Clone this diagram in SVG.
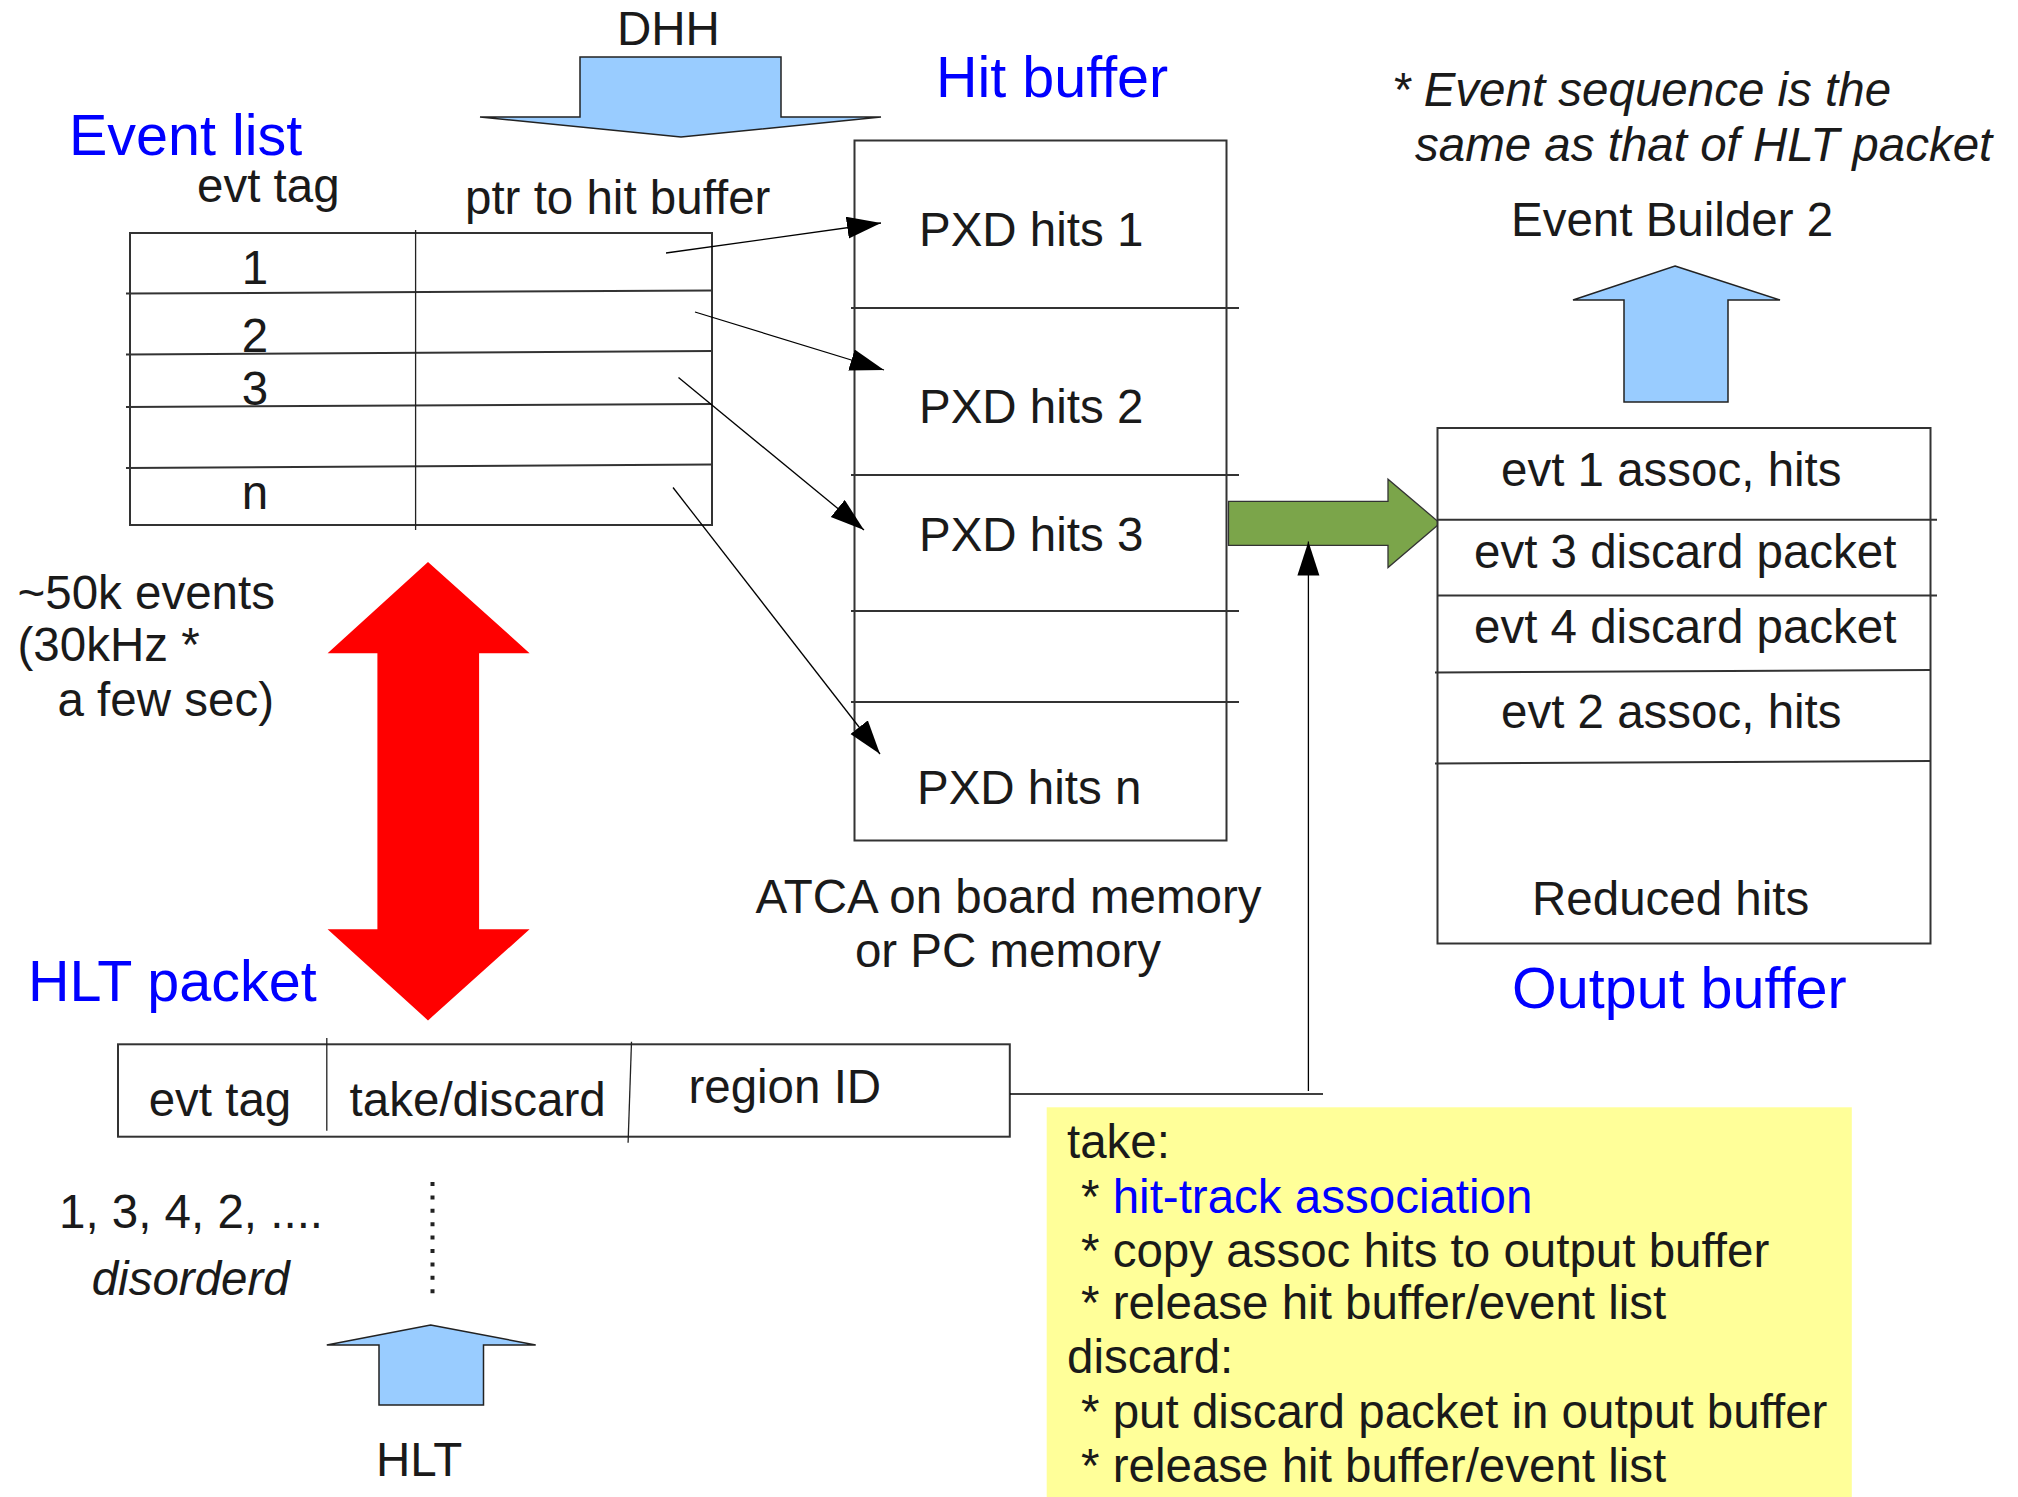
<svg xmlns="http://www.w3.org/2000/svg" width="2018" height="1497" viewBox="0 0 2018 1497">
  <defs>
    <marker id="head" markerUnits="userSpaceOnUse" markerWidth="36" markerHeight="24" refX="34" refY="11" orient="auto">
      <path d="M0,0 L34,11 L0,22 z" fill="#000"/>
    </marker>
    <style>
      text { font-family: "Liberation Sans", Arial, sans-serif; font-size: 47.5px; fill: #1a1a1a; }
      .title { font-size: 57.5px; fill: #0000ff; }
      .it { font-style: italic; }
      .mid { text-anchor: middle; }
      .box { fill: #fff; stroke: #333; stroke-width: 2; }
      .row { stroke: #333; stroke-width: 2; fill: none; }
      .thin { stroke: #222; stroke-width: 1.3; fill: none; }
      .blueArrow { fill: #99ccff; stroke: #222; stroke-width: 1.5; }
      .link { stroke: #000; stroke-width: 1.3; fill: none; }
    </style>
  </defs>
  <rect width="2018" height="1497" fill="#fff"/>

  <!-- incoming DHH data -->
  <g id="dhh">
    <text x="617" y="45">DHH</text>
    <polygon class="blueArrow" points="580,57 781,57 781,117 881,117 681,137 480,117 580,117"/>
  </g>

  <!-- event list table -->
  <g id="event-list">
    <text class="title" x="69" y="155">Event list</text>
    <text x="197" y="202">evt tag</text>
    <text x="465" y="214">ptr to hit buffer</text>
    <rect class="box" x="130" y="233" width="582" height="292"/>
    <line class="row" x1="126" y1="293.6" x2="712" y2="290.4"/>
    <line class="row" x1="126" y1="354.6" x2="712" y2="351"/>
    <line class="row" x1="126" y1="407" x2="712" y2="404"/>
    <line class="row" x1="126" y1="468" x2="712" y2="464.6"/>
    <line class="thin" x1="415.6" y1="230" x2="415.6" y2="530"/>
    <text class="mid" x="255" y="284">1</text>
    <text class="mid" x="255" y="352">2</text>
    <text class="mid" x="255" y="405">3</text>
    <text class="mid" x="255" y="509">n</text>
  </g>

  <!-- hit buffer -->
  <g id="hit-buffer">
    <text class="title" x="936" y="97">Hit buffer</text>
    <rect class="box" x="854.5" y="140.5" width="372" height="700"/>
    <line class="row" x1="851" y1="308" x2="1239" y2="308"/>
    <line class="row" x1="851" y1="475" x2="1239" y2="475"/>
    <line class="row" x1="851" y1="611" x2="1239" y2="611"/>
    <line class="row" x1="851" y1="702" x2="1239" y2="702"/>
    <text x="919" y="246">PXD hits 1</text>
    <text x="919" y="422.5">PXD hits 2</text>
    <text x="919" y="551">PXD hits 3</text>
    <text x="917" y="804">PXD hits n</text>
    <text class="mid" x="1008.5" y="913">ATCA on board memory</text>
    <text class="mid" x="1008" y="967">or PC memory</text>
  </g>

  <!-- ordering note -->
  <g id="note-sequence">
    <text class="it" x="1392" y="106">* Event sequence is the</text>
    <text class="it" x="1415" y="161">same as that of HLT packet</text>
  </g>

  <!-- event builder output -->
  <g id="event-builder">
    <text x="1511" y="236">Event Builder 2</text>
    <polygon class="blueArrow" points="1675,266 1780,300 1728,300 1728,402 1624,402 1624,300 1573,300"/>
  </g>

  <!-- transfer to output buffer -->
  <g id="transfer-arrow">
    <polygon fill="#7ba54a" stroke="#333" stroke-width="1.3" points="1228.5,501.4 1388,501.4 1388,479.2 1440,523.2 1388,567.6 1388,545.4 1228.5,545.4"/>
  </g>

  <!-- output buffer -->
  <g id="output-buffer">
    <rect class="box" x="1437.5" y="428" width="493" height="515.5"/>
    <line class="row" x1="1437" y1="519.8" x2="1937" y2="519.8"/>
    <line class="row" x1="1437" y1="595.5" x2="1937" y2="595.5"/>
    <line class="row" x1="1435" y1="672.5" x2="1930" y2="670"/>
    <line class="row" x1="1435" y1="763.5" x2="1930" y2="761"/>
    <text x="1501" y="486">evt 1 assoc, hits</text>
    <text x="1474" y="568">evt 3 discard packet</text>
    <text x="1474" y="643">evt 4 discard packet</text>
    <text x="1501" y="728">evt 2 assoc, hits</text>
    <text x="1532" y="915">Reduced hits</text>
    <text class="title" x="1512" y="1007.5">Output buffer</text>
  </g>

  <!-- event count note -->
  <g id="note-rate">
    <text x="17.5" y="608.6">~50k events</text>
    <text x="17.5" y="661.4">(30kHz *</text>
    <text x="57.5" y="715.7">a few sec)</text>
  </g>

  <!-- list / packet correspondence -->
  <g id="red-arrow">
    <polygon fill="#ff0000" points="428,562 529.6,653.2 479.1,653.2 479.1,929.3 529.6,929.3 428,1020.4 327.6,929.3 377.4,929.3 377.4,653.2 327.6,653.2"/>
  </g>

  <!-- HLT packet -->
  <g id="hlt-packet">
    <text class="title" x="28" y="1000.7">HLT packet</text>
    <rect class="box" x="118" y="1044.3" width="891.8" height="92.4"/>
    <line class="thin" x1="326.8" y1="1038" x2="326.8" y2="1130.7"/>
    <line class="thin" x1="631.5" y1="1041.7" x2="628.1" y2="1142.7"/>
    <text x="148.7" y="1116">evt tag</text>
    <text x="349.6" y="1116">take/discard</text>
    <text x="688.4" y="1102.7">region ID</text>
    <text x="59" y="1228.3">1, 3, 4, 2, ....</text>
    <text class="it" x="91.7" y="1295">disorderd</text>
  </g>

  <!-- incoming HLT data -->
  <g id="hlt">
    <polygon class="blueArrow" points="430.6,1325 535.7,1345 483.5,1345 483.5,1405 379,1405 379,1345 326.8,1345"/>
    <text x="376" y="1476">HLT</text>
  </g>

  <!-- action notes -->
  <g id="note-actions">
    <rect x="1046.7" y="1107.3" width="805.1" height="389.7" fill="#ffff99"/>
    <text x="1067" y="1158.3">take:</text>
    <text x="1081" y="1212.7">* <tspan fill="#0000ff">hit-track association</tspan></text>
    <text x="1081" y="1266.7">* copy assoc hits to output buffer</text>
    <text x="1081" y="1319.3">* release hit buffer/event list</text>
    <text x="1067" y="1372.7">discard:</text>
    <text x="1081" y="1428.3">* put discard packet in output buffer</text>
    <text x="1081" y="1481.7">* release hit buffer/event list</text>
  </g>

  <!-- connectors -->
  <g id="connectors">
    <line class="link" x1="666" y1="253" x2="881" y2="223" marker-end="url(#head)"/>
    <line class="link" x1="695" y1="312" x2="884" y2="370" marker-end="url(#head)"/>
    <line class="link" x1="678.5" y1="377.5" x2="864" y2="530" marker-end="url(#head)"/>
    <line class="link" x1="673" y1="487.5" x2="880" y2="754" marker-end="url(#head)"/>
    <path class="link" d="M1010,1094 H1323"/>
    <line class="link" x1="1308.4" y1="1091" x2="1308.4" y2="541.6" marker-end="url(#head)"/>
    <line x1="432.5" y1="1182" x2="432.5" y2="1296" stroke="#222" stroke-width="4" stroke-dasharray="4 9.4"/>
  </g>
</svg>
